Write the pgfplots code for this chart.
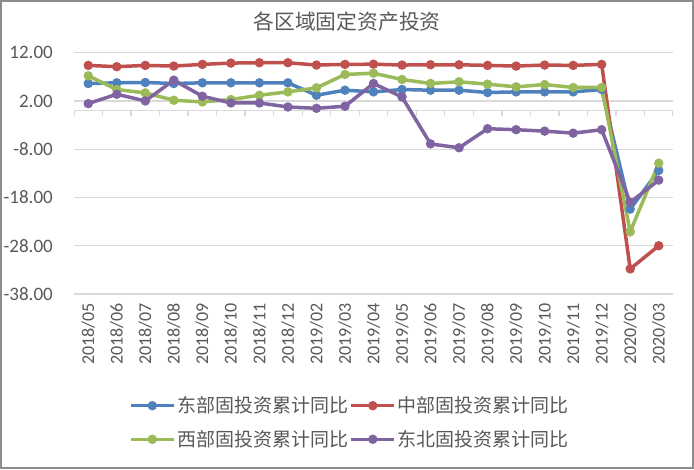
\documentclass[border=0pt]{standalone}
\usepackage{pgfplots}
\pgfplotsset{compat=1.18}
\usepackage{pgfplotstable}
\usepackage{fontspec}
\setmainfont{Carlito}
\newfontfamily\cjk{Noto Sans CJK SC}
\definecolor{cE}{HTML}{4F81BD}
\definecolor{cC}{HTML}{C0504D}
\definecolor{cW}{HTML}{9BBB59}
\definecolor{cN}{HTML}{8064A2}
\definecolor{txt}{HTML}{595959}
\definecolor{grd}{HTML}{D9D9D9}
\definecolor{frm}{HTML}{8C8C8C}
\pgfplotstableread{
x E C W N
0 5.62 9.37 7.21 1.45
1 5.76 9.10 4.37 3.40
2 5.83 9.37 3.67 2.00
3 5.62 9.23 2.15 6.31
4 5.76 9.58 1.80 2.98
5 5.76 9.85 2.29 1.59
6 5.76 9.92 3.19 1.59
7 5.76 9.92 3.88 0.75
8 3.19 9.44 4.71 0.48
9 4.23 9.58 7.49 0.90
10 3.88 9.62 7.75 5.62
11 4.37 9.44 6.45 2.83
12 4.23 9.50 5.62 -6.90
13 4.23 9.50 5.97 -7.70
14 3.75 9.37 5.48 -3.75
15 3.88 9.23 4.92 -3.96
16 3.88 9.44 5.41 -4.25
17 3.88 9.37 4.79 -4.67
18 4.37 9.58 4.79 -3.96
19 -20.4 -32.8 -25.1 -19.0
20 -12.4 -28.0 -10.9 -14.4
}\data
\begin{document}
\begin{tikzpicture}[x=1pt,y=1pt]
\useasboundingbox (0,0) rectangle (694,469);
\fill[white] (0,0) rectangle (694,469);
\draw[frm, line width=2pt] (1,1) rectangle (693,468);
\node[font=\cjk\fontsize{20.8}{24}\selectfont, text=txt] at (347,447) {各区域固定资产投资};
\begin{axis}[
  at={(74pt,175pt)}, anchor=south west,
  scale only axis, width=599pt, height=241.3pt,
  xmin=-0.5, xmax=20.5, ymin=-38, ymax=12,
  axis line style={draw=none},
  major tick length=0pt,
  ymajorgrids, grid style={grd, line width=1.3pt},
  ytick={-38,-28,-18,-8,2,12},
  yticklabels={-38.00,-28.00,-18.00,-8.00,2.00,12.00},
  yticklabel style={font=\fontsize{19}{22}\selectfont, text=txt, anchor=east, inner sep=0pt, xshift=-21pt},
  xtick={0,...,20},
  xticklabels={2018/05,2018/06,2018/07,2018/08,2018/09,2018/10,2018/11,2018/12,2019/02,2019/03,2019/04,2019/05,2019/06,2019/07,2019/08,2019/09,2019/10,2019/11,2019/12,2020/02,2020/03},
  xticklabel style={font=\fontsize{18}{20}\selectfont, text=txt, rotate=90, anchor=east, inner sep=0pt, xshift=-9pt},
  legend columns=2,
  legend style={at={(0.46,-0.5325)}, anchor=center, draw=none, fill=none,
    font=\cjk\fontsize{19}{22}\selectfont, text=txt, inner sep=0pt,
    nodes={inner sep=1.5pt}, row sep=13pt,
    /tikz/every even column/.append style={column sep=0pt}},
  legend image code/.code={
    \draw[#1, mark=none] (0pt,0pt) -- (43pt,0pt);
    \draw[#1] plot coordinates {(21.5pt,0pt)};
  },
  every axis plot/.append style={line width=3.5pt, mark=*, mark size=4.2pt},
]
\draw[grd, line width=1.3pt] (axis cs:-0.5,0) -- (axis cs:20.5,0);
\pgfplotsinvokeforeach{-0.5,0.5,...,20.5}{
  \draw[grd, line width=1.3pt] (axis cs:#1,0) -- ++(0pt,-5pt);
}
\addplot[cE, mark options={fill=cE, line width=1pt}] table[x=x,y=E]{\data};
\addlegendentry{东部固投资累计同比}
\addplot[cC, mark options={fill=cC, line width=1pt}] table[x=x,y=C]{\data};
\addlegendentry{中部固投资累计同比}
\addplot[cW, mark options={fill=cW, line width=1pt}] table[x=x,y=W]{\data};
\addlegendentry{西部固投资累计同比}
\addplot[cN, mark options={fill=cN, line width=1pt}] table[x=x,y=N]{\data};
\addlegendentry{东北固投资累计同比}
\end{axis}
\end{tikzpicture}
\end{document}
